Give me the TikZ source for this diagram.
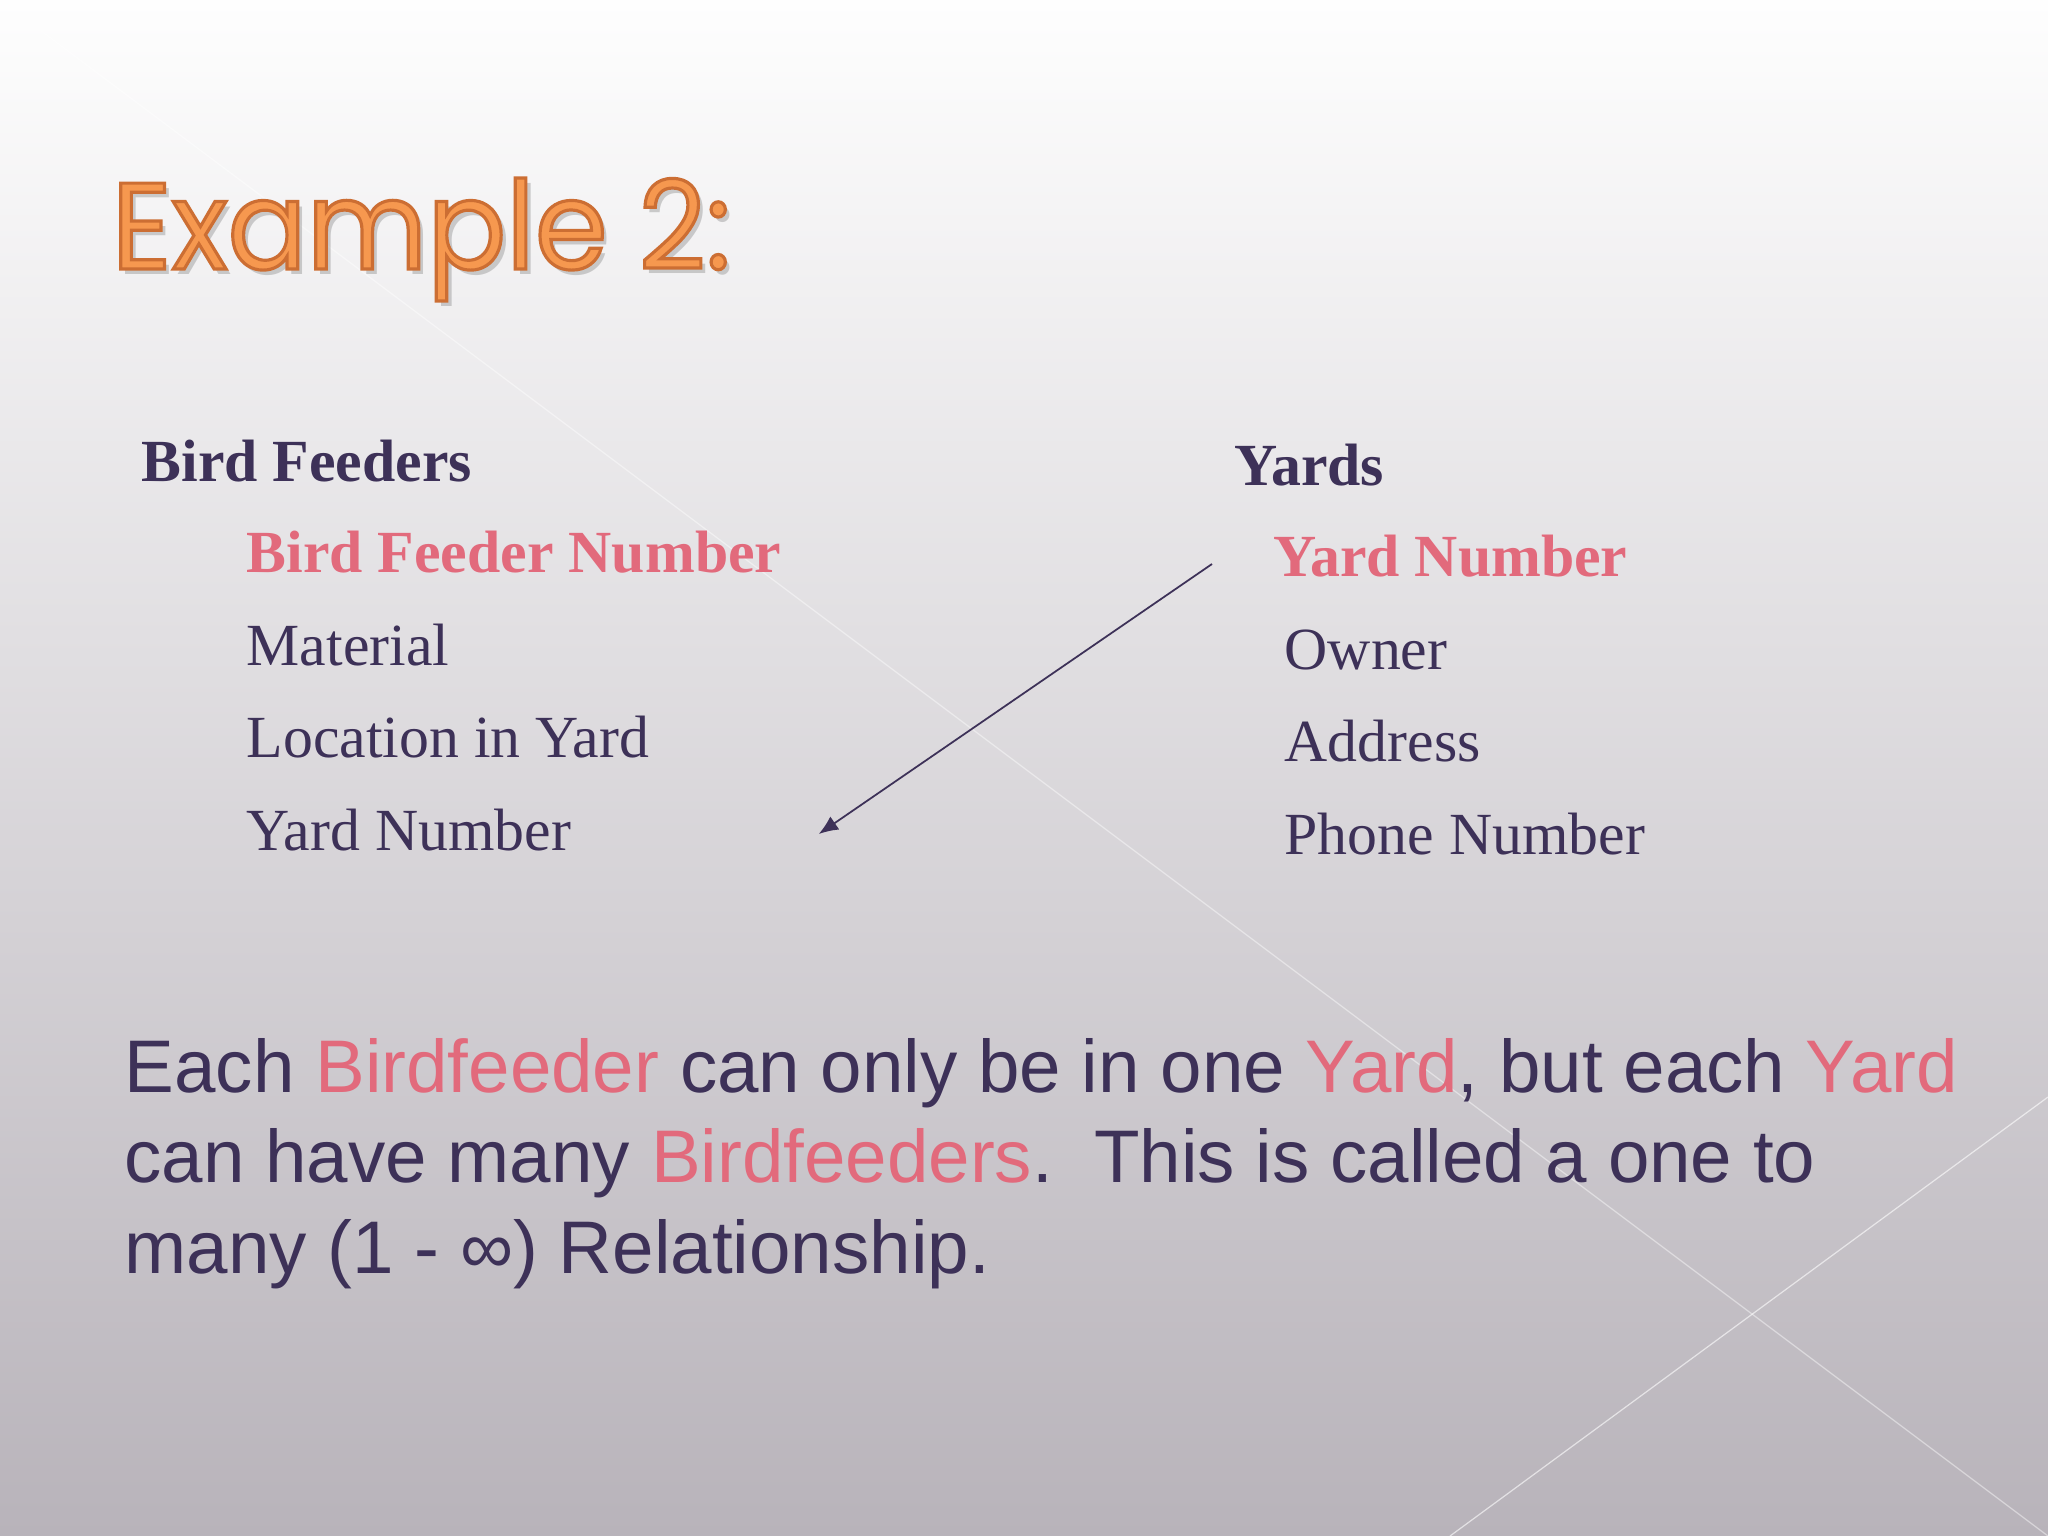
\documentclass[tikz,border=0pt]{standalone}
\usepackage{fontspec}
\setmainfont{Liberation Serif}
\newfontfamily\titlefont[FakeStretch=0.95]{Poppins}
\newfontfamily\sansbody{Liberation Sans}
\usetikzlibrary{arrows.meta,calc}

\definecolor{plum}{RGB}{61,49,88}
\definecolor{rose}{RGB}{226,106,124}
\definecolor{tangerine}{RGB}{246,152,79}
\definecolor{bgtop}{RGB}{254,254,254}
\definecolor{bgmid}{RGB}{226,223,227}
\definecolor{bgbot}{RGB}{184,179,186}

% outlined letters for the title
\newcommand{\rimtext}[1]{\special{pdf:literal direct 2 Tr 0.9 w 0.80 0.43 0.20 RG}#1\special{pdf:literal direct 0 Tr}}

\begin{document}
\begin{tikzpicture}[x=0.01cm,y=-0.01cm]

\tikzstyle{every node}=[inner sep=0pt, anchor=base west, text=plum]
\tikzstyle{head}=[font=\fontsize{17}{20}\selectfont\bfseries]
\tikzstyle{key}=[head, text=rose]
\tikzstyle{field}=[font=\fontsize{17}{20}\selectfont]
\tikzstyle{sentence}=[font=\sansbody\fontsize{21.2}{26}\selectfont]
\tikzstyle{heading}=[font=\titlefont\fontsize{35}{40}\selectfont]

\useasboundingbox (0,0) rectangle (2048,1536);
\shade[top color=bgtop, middle color=bgmid, bottom color=bgbot] (0,0) rectangle (2048,1536);

% faint theme lines
\draw[white, opacity=0.45, line width=0.35pt] (0,0) -- (2048,1536);
\draw[white, opacity=0.6, line width=0.35pt] (2048,1097) -- (1450,1536);

% title
\node[heading, text=black!60, opacity=0.3] (titleshade) at (116,274) {Example 2:};
\node[heading, text=tangerine] (title) at (111,269) {\rimtext{Example 2:}};

% bird feeders
\node[head] (feeders) at (141,481) {Bird Feeders};
\node[key] (feederno) at (246,572) {Bird Feeder Number};
\node[field] (material) at (246,665) {Material};
\node[field] (location) at (246,757) {Location in Yard};
\node[field] (fkyard) at (246,850) {Yard Number};

% yards
\node[head] (yards) at (1234,485) {Yards};
\node[key] (yardno) at (1273,576) {Yard Number};
\node[field] (owner) at (1284,669) {Owner};
\node[field] (address) at (1284,761) {Address};
\node[field] (phone) at (1284,854) {Phone Number};

% link between the two keys
\coordinate (linkstart) at ($(yardno.base west)+(-61,-12)$);
\coordinate (linkend) at ($(fkyard.base east)+(247,-16)$);
\draw[-{Latex[length=5.5pt,width=4.5pt]}, plum, line width=0.5pt] (linkstart) -- (linkend);

% explanation
\node[sentence] (line1) at (124,1092) {Each \textcolor{rose}{Birdfeeder} can only be in one \textcolor{rose}{Yard}, but each \textcolor{rose}{Yard}};
\node[sentence] (line2) at (124,1182) {can have many \textcolor{rose}{Birdfeeders}.\ \ This is called a one to};
\node[sentence] (line3) at (124,1273) {many (1 - ∞) Relationship.};

\end{tikzpicture}
\end{document}
